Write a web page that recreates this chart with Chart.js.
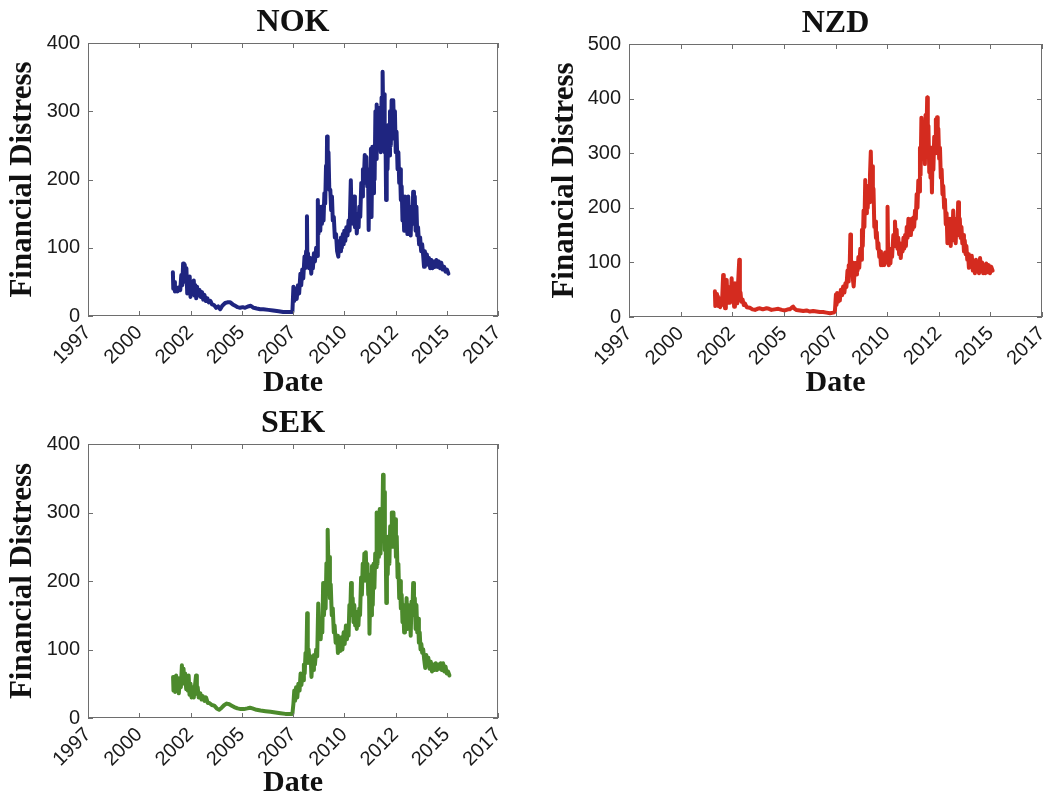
<!DOCTYPE html>
<html>
<head>
<meta charset="utf-8">
<script src="https://cdn.jsdelivr.net/npm/chart.js@4"></script>
<style>
  html, body { margin: 0; padding: 0; background: #fff; overflow: hidden; }
  body { width: 1051px; height: 800px; position: relative; }
  canvas { position: absolute; }
</style>
</head>
<body>
<canvas id="nokChart" width="520" height="400" style="left:0;top:0"></canvas>
<canvas id="nzdChart" width="530" height="400" style="left:542px;top:0"></canvas>
<canvas id="sekChart" width="520" height="400" style="left:0;top:400px"></canvas>
<script>
// x ticks (fractional years) and their printed labels
const yearTicks = [1997.5, 2000, 2002.5, 2005, 2007.5, 2010, 2012.5, 2015, 2017.5];
const yearLabels = ['1997', '2000', '2002', '2005', '2007', '2010', '2012', '2015', '2017'];

const ticks400 = [0, 100, 200, 300, 400];
const ticks500 = [0, 100, 200, 300, 400, 500];

// NOK
const nokDates = [
  2001.64, 2001.66, 2001.70, 2001.74, 2001.80, 2001.86, 2001.94, 2002.00, 2002.05, 2002.10,
  2002.14, 2002.18, 2002.22, 2002.26, 2002.30, 2002.34, 2002.38, 2002.42, 2002.46, 2002.50,
  2002.55, 2002.60, 2002.66, 2002.70, 2002.74, 2002.78, 2002.82, 2002.88, 2002.94, 2003.00,
  2003.06, 2003.12, 2003.18, 2003.25, 2003.32, 2003.39, 2003.47, 2003.55, 2003.65, 2003.75,
  2003.85, 2003.95, 2004.05, 2004.19, 2004.30, 2004.44, 2004.56, 2004.68, 2004.80, 2004.92,
  2005.05, 2005.16, 2005.30, 2005.44, 2005.58, 2005.73, 2005.90, 2006.05, 2006.30, 2006.53,
  2006.80, 2007.02, 2007.25, 2007.47,
  2007.52, 2007.56, 2007.62, 2007.68, 2007.74, 2007.80, 2007.86, 2007.90, 2007.95, 2008.00,
  2008.06, 2008.10, 2008.14, 2008.18, 2008.20, 2008.23, 2008.28, 2008.34, 2008.39, 2008.43,
  2008.47, 2008.52, 2008.57, 2008.63, 2008.67, 2008.71, 2008.74, 2008.79, 2008.83, 2008.87,
  2008.91, 2008.95, 2008.99, 2009.03, 2009.07, 2009.11, 2009.14, 2009.16, 2009.19, 2009.23,
  2009.27, 2009.32, 2009.36, 2009.40, 2009.44, 2009.49, 2009.54, 2009.60, 2009.65, 2009.71,
  2009.75, 2009.80, 2009.84, 2009.88, 2009.93, 2009.97, 2010.00, 2010.05, 2010.10, 2010.16,
  2010.21, 2010.26, 2010.32, 2010.35, 2010.40, 2010.44, 2010.48, 2010.52, 2010.57, 2010.61,
  2010.66, 2010.70, 2010.73, 2010.78, 2010.83, 2010.87, 2010.91, 2010.95, 2011.00, 2011.04,
  2011.08, 2011.12, 2011.16, 2011.19, 2011.22, 2011.26, 2011.30, 2011.33, 2011.37, 2011.41,
  2011.45, 2011.48, 2011.52, 2011.55, 2011.58, 2011.62, 2011.66, 2011.70, 2011.74, 2011.78,
  2011.82, 2011.85, 2011.87, 2011.90, 2011.94, 2011.97, 2012.01, 2012.04, 2012.07, 2012.11,
  2012.15, 2012.19, 2012.23, 2012.27, 2012.31, 2012.35, 2012.39, 2012.43, 2012.47, 2012.51,
  2012.55, 2012.60, 2012.64, 2012.68, 2012.72, 2012.76, 2012.80, 2012.84, 2012.88, 2012.92,
  2012.96, 2013.00, 2013.04, 2013.08, 2013.12, 2013.16, 2013.20, 2013.24, 2013.28, 2013.32,
  2013.36, 2013.40, 2013.44, 2013.48, 2013.52, 2013.56, 2013.60, 2013.65, 2013.70, 2013.75,
  2013.80, 2013.85, 2013.89, 2013.93, 2013.98, 2014.03, 2014.08, 2014.13, 2014.19, 2014.25,
  2014.31, 2014.37, 2014.43, 2014.49, 2014.55, 2014.61, 2014.67, 2014.73, 2014.80, 2014.87,
  2014.94, 2015.01, 2015.08
];
const nokValues = [
  64, 40, 50, 36, 42, 36, 42, 38, 60, 45,
  77, 60, 75, 50, 70, 33, 55, 35, 58, 28,
  45, 32, 52, 30, 45, 26, 43, 30, 38, 28,
  35, 24, 31, 22, 26, 20, 22, 17, 16, 12,
  14, 10, 15, 19, 20, 20, 17, 15, 13, 12,
  13, 12, 14, 15, 12, 11, 10, 10, 9, 8,
  7, 6, 6, 6,
  43, 22, 40, 25, 45, 33, 62, 45, 68, 55,
  87, 70, 95, 146, 80, 92, 70, 85, 62, 80,
  70, 92, 80, 100, 88, 170, 120, 150, 125, 160,
  135, 155, 140, 180, 165, 220, 190, 263, 215, 240,
  185, 185, 155, 175, 140, 145, 115, 120, 95, 87,
  110, 95, 115, 100, 120, 105, 125, 110, 130, 118,
  140, 125, 199, 150, 170, 135, 175, 130, 150, 121,
  145, 130, 160, 145, 195, 175, 215, 195, 236, 200,
  233, 190, 215, 126, 200, 150, 245, 145, 248, 180,
  240, 200, 300, 230, 310, 245, 305, 255, 290, 240,
  320, 260, 358, 290, 325, 240, 270, 170, 250, 215,
  280, 235, 300, 250, 316, 260, 316, 270, 300, 240,
  270, 215, 240, 195, 215, 170, 190, 140, 165, 125,
  175, 130, 160, 120, 175, 130, 150, 118, 160, 135,
  182, 140, 175, 125, 160, 118, 130, 105, 115, 95,
  105, 88, 72, 95, 80, 90, 75, 85, 70, 82,
  70, 80, 72, 82, 72, 80, 70, 78, 68, 72,
  65, 68, 62
];

// NZD
const nzdDates = [
  2001.66, 2001.68, 2001.72, 2001.76, 2001.80, 2001.84, 2001.88, 2001.92, 2001.96, 2002.00,
  2002.04, 2002.06, 2002.09, 2002.12, 2002.15, 2002.19, 2002.23, 2002.27, 2002.31, 2002.35,
  2002.39, 2002.43, 2002.47, 2002.51, 2002.55, 2002.59, 2002.63, 2002.67, 2002.71, 2002.74,
  2002.78, 2002.84, 2002.87, 2002.90, 2002.94, 2003.00, 2003.06, 2003.11, 2003.20, 2003.35,
  2003.48, 2003.60, 2003.72, 2003.84, 2003.98, 2004.16, 2004.28, 2004.40, 2004.55, 2004.73,
  2004.90, 2005.05, 2005.20, 2005.29, 2005.38, 2005.45, 2005.52, 2005.61, 2005.78, 2005.94,
  2006.10, 2006.26, 2006.42, 2006.58, 2006.74, 2006.90, 2007.06, 2007.23, 2007.40, 2007.47,
  2007.52, 2007.55, 2007.58, 2007.63, 2007.68, 2007.71, 2007.76, 2007.82, 2007.87, 2007.93,
  2007.98, 2008.03, 2008.08, 2008.11, 2008.14, 2008.18, 2008.22, 2008.25, 2008.30, 2008.34,
  2008.38, 2008.42, 2008.46, 2008.50, 2008.54, 2008.57, 2008.61, 2008.65, 2008.70, 2008.74,
  2008.78, 2008.82, 2008.86, 2008.90, 2008.94, 2008.98, 2009.02, 2009.06, 2009.10, 2009.13,
  2009.17, 2009.21, 2009.24, 2009.28, 2009.31, 2009.34, 2009.38, 2009.42, 2009.46, 2009.50,
  2009.54, 2009.58, 2009.62, 2009.66, 2009.70, 2009.74, 2009.78, 2009.82, 2009.86, 2009.90,
  2009.95, 2010.00, 2010.02, 2010.05, 2010.08, 2010.12, 2010.16, 2010.20, 2010.24, 2010.30,
  2010.34, 2010.38, 2010.42, 2010.46, 2010.50, 2010.54, 2010.58, 2010.62, 2010.66, 2010.70,
  2010.75, 2010.79, 2010.83, 2010.87, 2010.91, 2010.95, 2010.99, 2011.03, 2011.07, 2011.11,
  2011.15, 2011.19, 2011.23, 2011.27, 2011.31, 2011.35, 2011.39, 2011.43, 2011.47, 2011.51,
  2011.55, 2011.59, 2011.62, 2011.66, 2011.69, 2011.73, 2011.76, 2011.80, 2011.83, 2011.86,
  2011.90, 2011.94, 2011.97, 2012.00, 2012.04, 2012.07, 2012.10, 2012.13, 2012.17, 2012.20,
  2012.24, 2012.28, 2012.32, 2012.36, 2012.39, 2012.42, 2012.45, 2012.48, 2012.52, 2012.56,
  2012.60, 2012.64, 2012.68, 2012.72, 2012.76, 2012.80, 2012.84, 2012.88, 2012.92, 2012.96,
  2013.00, 2013.04, 2013.08, 2013.12, 2013.16, 2013.20, 2013.24, 2013.28, 2013.32, 2013.36,
  2013.40, 2013.44, 2013.48, 2013.52, 2013.56, 2013.60, 2013.64, 2013.68, 2013.72, 2013.76,
  2013.80, 2013.84, 2013.88, 2013.92, 2013.96, 2014.00, 2014.05, 2014.10, 2014.15, 2014.20,
  2014.25, 2014.30, 2014.35, 2014.40, 2014.45, 2014.50, 2014.55, 2014.60, 2014.65, 2014.70,
  2014.75, 2014.80, 2014.86, 2014.92, 2014.98, 2015.04, 2015.11
];
const nzdValues = [
  47, 20, 42, 22, 38, 20, 30, 18, 35, 22,
  60, 77, 25, 50, 16, 45, 68, 30, 55, 26,
  50, 28, 71, 30, 55, 19, 62, 28, 50, 25,
  60, 105, 35, 45, 28, 32, 22, 25, 18, 17,
  14, 13, 15, 16, 14, 16, 15, 13, 14, 15,
  13, 12, 14, 14, 17, 19, 15, 13, 12, 11,
  12, 10, 11, 10, 9, 9, 8, 7, 8, 10,
  41, 22, 44, 28, 40, 30, 50, 40, 56, 45,
  62, 55, 85, 65, 95, 80, 151, 90, 100, 70,
  56, 80, 99, 78, 100, 85, 110, 90, 125, 105,
  160, 130, 195, 165, 251, 190, 240, 200, 240, 210,
  260, 303, 240, 276, 220, 235, 165, 175, 145, 155,
  125, 135, 110, 120, 95, 115, 95, 110, 95, 118,
  100, 120, 202, 110, 95, 120, 98, 125, 110, 150,
  130, 175, 145, 160, 125, 145, 115, 135, 108, 130,
  120, 145, 125, 150, 130, 165, 145, 180, 150, 175,
  150, 180, 160, 182, 165, 195, 180, 225, 200, 250,
  230, 310, 260, 365, 290, 340, 300, 330, 280, 370,
  320, 402, 330, 350, 265, 300, 255, 310, 228, 300,
  270, 330, 300, 362, 320, 366, 310, 345, 290, 310,
  255, 270, 225, 240, 200, 215, 170, 190, 135, 175,
  140, 180, 130, 170, 140, 195, 150, 180, 135, 175,
  150, 210, 160, 180, 145, 165, 135, 150, 120, 140,
  115, 130, 105, 115, 90, 110, 95, 112, 85, 100,
  80, 105, 85, 100, 80, 108, 85, 100, 80, 95,
  80, 98, 82, 95, 80, 92, 85
];

// SEK
const sekDates = [
  2001.65, 2001.67, 2001.71, 2001.75, 2001.80, 2001.85, 2001.89, 2001.93, 2001.98, 2002.03,
  2002.08, 2002.12, 2002.16, 2002.20, 2002.24, 2002.29, 2002.33, 2002.37, 2002.41, 2002.45,
  2002.50, 2002.55, 2002.60, 2002.66, 2002.72, 2002.77, 2002.81, 2002.85, 2002.90, 2002.98,
  2003.04, 2003.10, 2003.18, 2003.26, 2003.34, 2003.42, 2003.54, 2003.66, 2003.78, 2003.90,
  2004.02, 2004.15, 2004.27, 2004.39, 2004.51, 2004.63, 2004.79, 2004.95, 2005.11, 2005.27,
  2005.40, 2005.52, 2005.72, 2005.92, 2006.16, 2006.40, 2006.64, 2006.89, 2007.13, 2007.37,
  2007.47, 2007.52, 2007.56, 2007.60, 2007.65, 2007.71, 2007.76, 2007.82, 2007.87, 2007.91,
  2007.95, 2008.00, 2008.03, 2008.07, 2008.11, 2008.15, 2008.19, 2008.22, 2008.26, 2008.31,
  2008.36, 2008.40, 2008.45, 2008.49, 2008.52, 2008.57, 2008.63, 2008.68, 2008.73, 2008.77,
  2008.81, 2008.85, 2008.89, 2008.93, 2008.97, 2009.01, 2009.05, 2009.09, 2009.13, 2009.16,
  2009.19, 2009.23, 2009.26, 2009.30, 2009.34, 2009.39, 2009.44, 2009.49, 2009.53, 2009.58,
  2009.65, 2009.69, 2009.73, 2009.78, 2009.82, 2009.86, 2009.91, 2009.97, 2010.02, 2010.08,
  2010.13, 2010.17, 2010.21, 2010.25, 2010.29, 2010.33, 2010.37, 2010.41, 2010.45, 2010.49,
  2010.53, 2010.57, 2010.61, 2010.65, 2010.69, 2010.73, 2010.77, 2010.82, 2010.86, 2010.90,
  2010.94, 2010.98, 2011.02, 2011.05, 2011.09, 2011.13, 2011.17, 2011.20, 2011.23, 2011.27,
  2011.31, 2011.35, 2011.39, 2011.43, 2011.47, 2011.51, 2011.55, 2011.58, 2011.62, 2011.66,
  2011.69, 2011.73, 2011.77, 2011.81, 2011.85, 2011.89, 2011.92, 2011.95, 2011.98, 2012.02,
  2012.05, 2012.08, 2012.12, 2012.16, 2012.20, 2012.24, 2012.28, 2012.32, 2012.36, 2012.40,
  2012.44, 2012.48, 2012.52, 2012.56, 2012.60, 2012.64, 2012.68, 2012.72, 2012.76, 2012.80,
  2012.84, 2012.88, 2012.92, 2012.96, 2013.00, 2013.04, 2013.08, 2013.12, 2013.16, 2013.20,
  2013.24, 2013.28, 2013.32, 2013.36, 2013.40, 2013.44, 2013.48, 2013.52, 2013.56, 2013.60,
  2013.64, 2013.68, 2013.72, 2013.76, 2013.80, 2013.85, 2013.90, 2013.95, 2014.00, 2014.05,
  2014.10, 2014.16, 2014.22, 2014.28, 2014.34, 2014.40, 2014.46, 2014.52, 2014.58, 2014.64,
  2014.70, 2014.76, 2014.82, 2014.88, 2014.94, 2015.00, 2015.06, 2015.13
];
const sekValues = [
  60, 40, 55, 38, 62, 40, 58, 36, 55, 45,
  77, 55, 72, 50, 65, 42, 60, 40, 62, 34,
  50, 30, 45, 30, 48, 62, 35, 45, 30, 36,
  27, 32, 25, 30, 22, 22, 19, 18, 14, 12,
  15, 19, 21, 20, 18, 16, 14, 13, 13, 14,
  15, 14, 12, 11, 10, 9, 8, 7, 6, 6,
  6, 21, 40, 25, 45, 30, 50, 40, 65, 48,
  62, 55, 78, 65, 95, 80, 153, 90, 100, 80,
  90, 60, 85, 70, 92, 78, 100, 90, 167, 120,
  145, 115, 140, 125, 197, 150, 175, 160, 226, 195,
  275, 215, 235, 175, 195, 150, 160, 125, 135, 110,
  120, 95, 100, 112, 98, 118, 100, 125, 108, 135,
  115, 130, 120, 165, 150, 197, 160, 175, 140, 165,
  135, 155, 130, 150, 135, 160, 150, 205, 180, 225,
  200, 240, 210, 242, 200, 225, 180, 210, 123, 190,
  150, 222, 165, 225, 190, 240, 220, 300, 225, 295,
  235, 305, 240, 300, 260, 355, 280, 330, 245, 260,
  168, 230, 210, 265, 225, 280, 250, 300, 260, 300,
  250, 290, 235, 265, 205, 225, 175, 200, 160, 180,
  140, 160, 125, 165, 140, 175, 130, 165, 135, 155,
  120, 170, 150, 197, 160, 175, 130, 165, 125, 145,
  110, 125, 100, 108, 95, 100, 85, 73, 92, 80,
  88, 72, 82, 68, 78, 70, 80, 70, 78, 72,
  80, 70, 80, 68, 75, 65, 68, 62
];

// box, inward ticks and title (matlab style)
const framePlugin = {
  id: 'frame',
  afterDatasetsDraw(chart, args, opts) {
    const ctx = chart.ctx;
    const a = chart.chartArea;
    const x = chart.scales.x;
    const y = chart.scales.y;
    ctx.save();
    ctx.strokeStyle = '#6e6e6e';
    ctx.lineWidth = 1;
    ctx.strokeRect(a.left + 0.5, a.top + 0.5, a.right - a.left - 1, a.bottom - a.top - 1);
    ctx.beginPath();
    x.ticks.forEach(t => {
      const px = Math.round(x.getPixelForValue(t.value)) + 0.5;
      ctx.moveTo(px, a.bottom);
      ctx.lineTo(px, a.bottom - 5);
      ctx.moveTo(px, a.top);
      ctx.lineTo(px, a.top + 5);
    });
    y.ticks.forEach(t => {
      const py = Math.round(y.getPixelForValue(t.value)) + 0.5;
      ctx.moveTo(a.left, py);
      ctx.lineTo(a.left + 5, py);
      ctx.moveTo(a.right, py);
      ctx.lineTo(a.right - 5, py);
    });
    ctx.stroke();
    ctx.fillStyle = '#111';
    ctx.font = 'bold 32px "Liberation Serif"';
    ctx.textAlign = 'center';
    ctx.textBaseline = 'middle';
    ctx.fillText(opts.title, (a.left + a.right) / 2, a.top - 20);
    ctx.restore();
  }
};

function makeChart(id, title, dates, values, color, yTicks, pad) {
  const points = dates.map((d, i) => ({ x: d, y: values[i] }));
  return new Chart(document.getElementById(id), {
    type: 'line',
    data: {
      datasets: [{
        data: points,
        borderColor: color,
        borderWidth: 4,
        pointRadius: 0,
        tension: 0,
        borderJoinStyle: 'round',
        borderCapStyle: 'round'
      }]
    },
    options: {
      responsive: false,
      animation: false,
      events: [],
      layout: { padding: { top: pad.top, right: pad.right, left: 0, bottom: 0 } },
      plugins: {
        legend: { display: false },
        tooltip: { enabled: false },
        frame: { title: title }
      },
      scales: {
        x: {
          type: 'linear',
          min: yearTicks[0],
          max: yearTicks[yearTicks.length - 1],
          afterBuildTicks: s => { s.ticks = yearTicks.map(v => ({ value: v })); },
          afterFit: s => { s.height = pad.xHeight; },
          grid: { display: false, drawTicks: false },
          border: { display: false },
          ticks: {
            autoSkip: false,
            minRotation: 45,
            maxRotation: 45,
            padding: 5,
            color: '#1a1a1a',
            font: { family: '"Liberation Sans"', size: 20 },
            callback: (v, i) => yearLabels[i]
          },
          title: {
            display: true,
            text: 'Date',
            color: '#111',
            font: { family: '"Liberation Serif"', size: 30, weight: 'bold', lineHeight: 1.1 },
            padding: { top: 0, bottom: 0 }
          }
        },
        y: {
          min: yTicks[0],
          max: yTicks[yTicks.length - 1],
          afterBuildTicks: s => { s.ticks = yTicks.map(v => ({ value: v })); },
          afterFit: s => { s.width = pad.yWidth; },
          grid: { display: false, drawTicks: false },
          border: { display: false },
          ticks: {
            padding: 8,
            color: '#1a1a1a',
            font: { family: '"Liberation Sans"', size: 20 }
          },
          title: {
            display: true,
            text: 'Financial Distress',
            color: '#111',
            font: { family: '"Liberation Serif"', size: 31, weight: 'bold', lineHeight: 1.2 },
            padding: { top: 4, bottom: 0 }
          }
        }
      }
    },
    plugins: [framePlugin]
  });
}

makeChart('nokChart', 'NOK', nokDates, nokValues, '#1f2580', ticks400,
  { top: 43, right: 20, yWidth: 88, xHeight: 84 });
makeChart('nzdChart', 'NZD', nzdDates, nzdValues, '#d42b1f', ticks500,
  { top: 44, right: 30, yWidth: 87, xHeight: 83 });
makeChart('sekChart', 'SEK', sekDates, sekValues, '#4c8a2c', ticks400,
  { top: 44, right: 20, yWidth: 88, xHeight: 82 });
</script>
</body>
</html>
